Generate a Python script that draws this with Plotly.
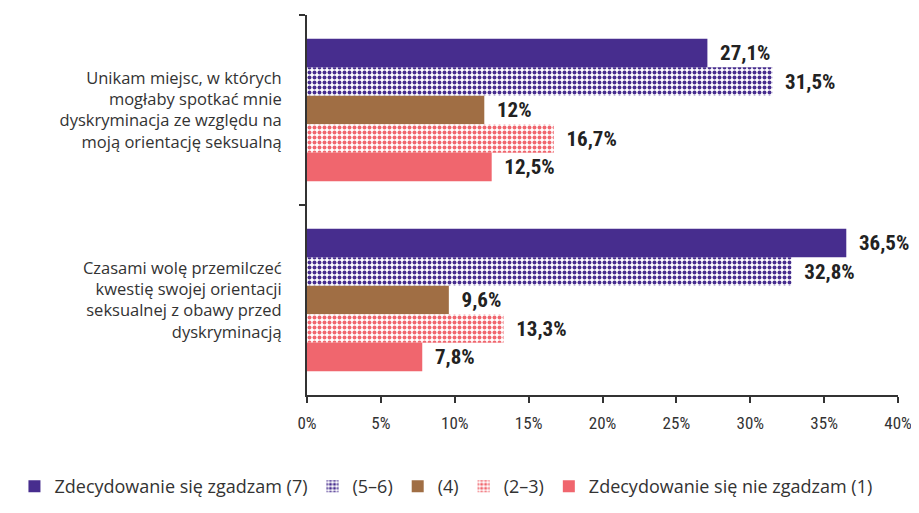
import plotly.graph_objects as go

categories = [
    "Unikam miejsc, w których<br>mogłaby spotkać mnie<br>dyskryminacja ze względu na<br>moją orientację seksualną",
    "Czasami wolę przemilczeć<br>kwestię swojej orientacji<br>seksualnej z obawy przed<br>dyskryminacją",
]
series_names = [
    "Zdecydowanie się zgadzam (7)",
    "(5–6)",
    "(4)",
    "(2–3)",
    "Zdecydowanie się nie zgadzam (1)",
]
values = [
    [27.1, 36.5],
    [31.5, 32.8],
    [12.0, 9.6],
    [16.7, 13.3],
    [12.5, 7.8],
]
tick_vals = [0, 5, 10, 15, 20, 25, 30, 35, 40]
tick_text = ["0%", "5%", "10%", "15%", "20%", "25%", "30%", "35%", "40%"]

colors = ["#472D8E", "#472D8E", "#A06E44", "#F0666E", "#F0666E"]
patterns = ["", ".", "", ".", ""]


def fmt(v):
    s = ("%.1f" % v).rstrip("0").rstrip(".")
    return "  " + s.replace(".", ",") + "%"


fig = go.Figure()
for name, vals, col, pat in zip(series_names, values, colors, patterns):
    marker = dict(color=col, line=dict(width=0))
    if pat:
        marker = dict(
            color="white",
            line=dict(width=0),
            pattern=dict(shape=pat, fgcolor=col, bgcolor="white",
                         size=5, solidity=0.5, fillmode="replace"),
        )
    fig.add_trace(go.Bar(
        y=categories, x=vals, name=name, orientation="h",
        marker=marker,
        text=[fmt(v) for v in vals],
        textposition="outside",
        cliponaxis=False,
        textfont=dict(family="Roboto Condensed, Roboto", size=21, color="#222222", weight="bold"),
    ))

fig.update_layout(
    width=911, height=505,
    margin=dict(l=295, r=21, t=7, b=118),
    paper_bgcolor="white", plot_bgcolor="white",
    barmode="group", bargap=0.25, bargroupgap=0,
    font=dict(family="Open Sans", color="#333333"),
    legend=dict(orientation="h", x=-0.495, xanchor="left", y=-0.241, yanchor="middle",
                font=dict(size=18, family="Open Sans", color="#333333"),
                itemwidth=30, traceorder="normal"),
    showlegend=True,
)
fig.update_xaxes(
    range=[0, 40], tickvals=tick_vals, ticktext=tick_text,
    showline=True, linecolor="#333333", linewidth=2,
    ticks="outside", ticklen=6, tickcolor="#333333", tickwidth=2,
    showgrid=False, zeroline=False, automargin=False,
    ticklabelstandoff=6,
    tickfont=dict(family="Roboto Condensed, Roboto", size=17, color="#333333"),
)
fig.update_yaxes(
    autorange="reversed",
    showline=True, linecolor="#333333", linewidth=2,
    ticks="outside", ticklen=6, tickcolor="#333333", tickwidth=2,
    tickson="boundaries", automargin=False,
    showgrid=False, zeroline=False,
    ticklabelstandoff=20,
    tickfont=dict(family="Open Sans", size=16.5, color="#333333"),
)

fig.write_html("out.html")
